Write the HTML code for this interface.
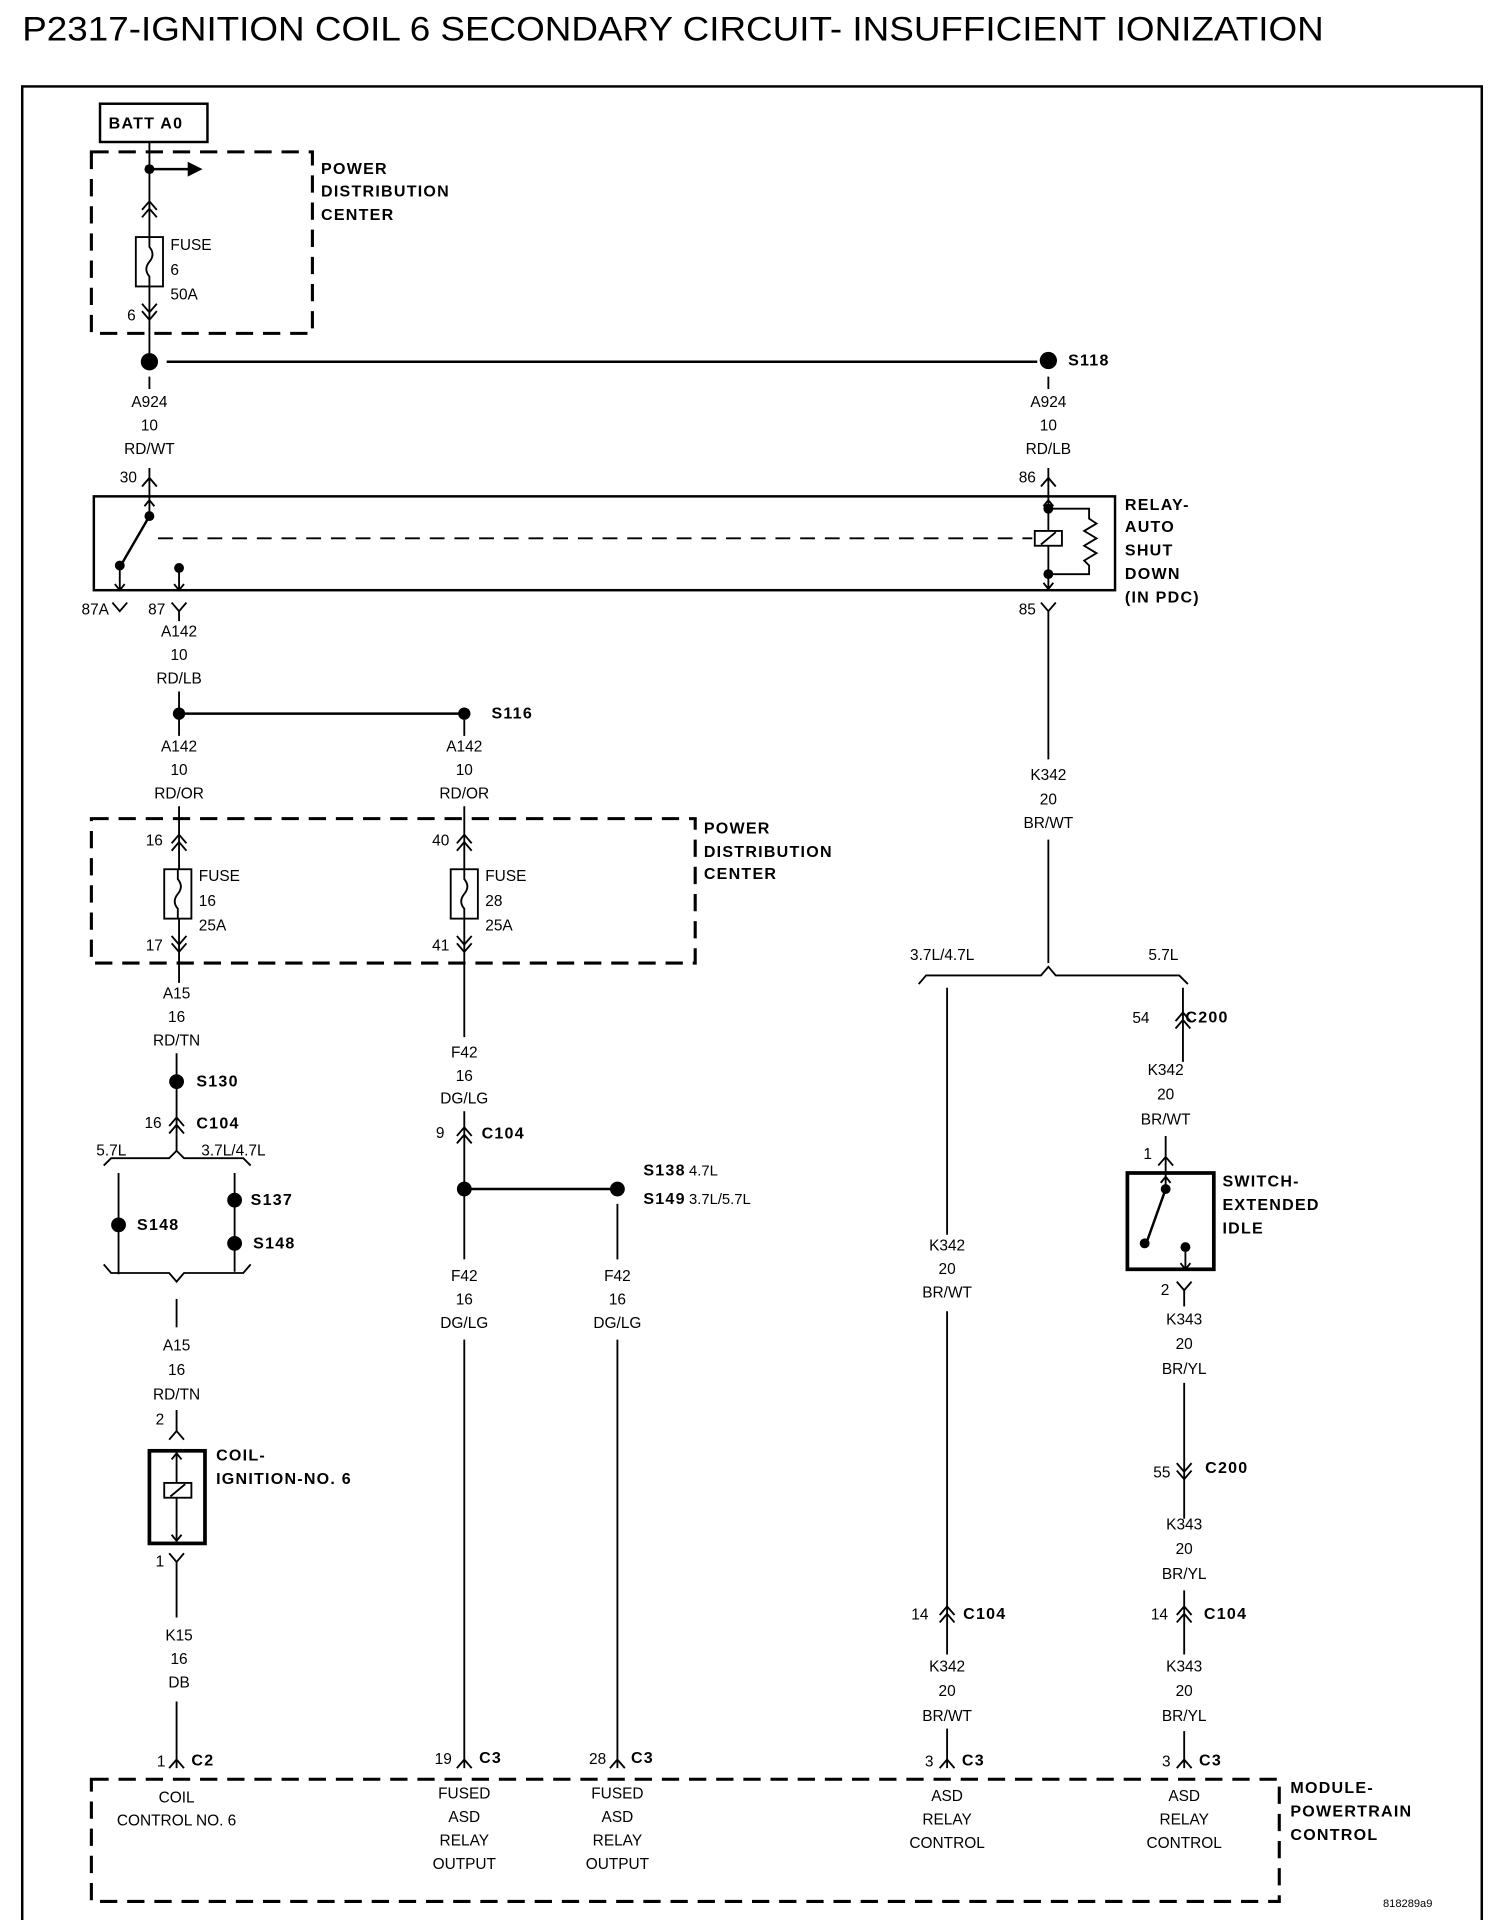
<!DOCTYPE html>
<html><head><meta charset="utf-8"><style>
html,body{margin:0;padding:0;background:#fff}
svg{display:block}
text{font-family:"Liberation Sans Narrow","Liberation Sans",sans-serif;font-size:12.5px;fill:#000;dominant-baseline:central}
.c{text-anchor:middle}
.b{font-family:"Liberation Sans",sans-serif;font-weight:bold;font-size:13px;letter-spacing:1px}
.w{stroke:#000;stroke-width:2;fill:none}
.t{stroke:#000;stroke-width:1.5;fill:none}
.d{stroke:#000;stroke-width:2.5;fill:none;stroke-dasharray:14 8}
</style></head><body>
<svg width="1504" height="1920" viewBox="0 0 1218 1555" preserveAspectRatio="none" xmlns="http://www.w3.org/2000/svg">
<text x="18" y="24" style="font-family:'Liberation Sans',sans-serif;font-size:28px" textLength="1054" lengthAdjust="spacingAndGlyphs">P2317-IGNITION COIL 6 SECONDARY CIRCUIT- INSUFFICIENT IONIZATION</text>
<rect x="18" y="70" width="1182" height="1520" class="w"/>

<rect x="81" y="84" width="87" height="31" class="w"/>
<text x="88" y="100" class="b">BATT A0</text>
<rect x="74" y="123" width="179" height="147" class="d"/>
<text x="260" y="137" class="b">POWER</text><text x="260" y="155" class="b">DISTRIBUTION</text><text x="260" y="174" class="b">CENTER</text>
<path class="t" d="M121 115 V192 M121 232 V292"/>
<circle cx="121" cy="137" r="4"/>
<path class="w" d="M121 137 H155"/><path d="M152 131 L164 137 L152 143Z"/>
<path class="t" d="M115 170 L121 163 L127 170 M115 176 L121 169 L127 176"/>
<rect x="110" y="192" width="22" height="40" class="t"/>
<path class="t" d="M121 192 V200 Q126 206 121 212 Q116 218 121 224 V232"/>
<text x="138" y="199">FUSE</text><text x="138" y="219">6</text><text x="138" y="239">50A</text>
<path class="t" d="M115 246 L121 253 L127 246 M115 252 L121 259 L127 252"/>
<text x="103" y="256">6</text>

<circle cx="121" cy="293" r="7"/>
<path class="w" d="M135 293 H840"/>
<circle cx="849" cy="292" r="7"/><text x="865" y="292" class="b">S118</text>
<path class="t" d="M121 305 V315 M849 305 V315"/>
<text class="c" x="121" y="326">A924</text><text class="c" x="121" y="345">10</text><text class="c" x="121" y="364">RD/WT</text>
<text class="c" x="849" y="326">A924</text><text class="c" x="849" y="345">10</text><text class="c" x="849" y="364">RD/LB</text>
<text x="97" y="387">30</text><path class="t" d="M115 394 L121 387 L127 394 M121 379 V402"/>
<text x="825" y="387">86</text><path class="t" d="M843 394 L849 387 L855 394 M849 379 V402"/>

<rect x="76" y="402" width="827" height="76" class="w"/>
<path class="t" d="M121 402 V418 M117 410 L121 405 L125 410"/>
<circle cx="121" cy="418" r="4"/>
<path class="w" d="M121 418 L99 456"/>
<circle cx="97" cy="458" r="4"/>
<path class="t" d="M97 458 V478 M93 473 L97 478 L101 473"/>
<circle cx="145" cy="460" r="4"/>
<path class="t" d="M145 460 V478 M141 473 L145 478 L149 473"/>
<path class="t" d="M128 436 H836" stroke-dasharray="12 8"/>
<path class="t" d="M849 402 V478 M845 410 L849 405 L853 410 M845 472 L849 477 L853 472"/>
<circle cx="849" cy="412" r="4"/><circle cx="849" cy="465" r="4"/>
<rect x="838" y="430" width="22" height="12" fill="#fff" stroke="#000" stroke-width="1.5"/>
<path class="t" d="M843 441 L855 431"/>
<path class="t" d="M849 412 H882 V420 L888 424 L878 430 L888 436 L878 442 L888 448 L878 454 L882 458 V465 H849"/>
<text x="911" y="409" class="b">RELAY-</text><text x="911" y="427" class="b">AUTO</text><text x="911" y="446" class="b">SHUT</text><text x="911" y="465" class="b">DOWN</text><text x="911" y="484" class="b">(IN PDC)</text>
<text x="66" y="494">87A</text><path class="t" d="M91 488 L97 495 L103 488"/>
<text x="120" y="494">87</text><path class="t" d="M139 488 L145 495 L151 488 M145 495 V503"/>
<text x="825" y="494">85</text><path class="t" d="M843 488 L849 495 L855 488"/>
<path class="t" d="M849 495 V615 M849 680 V780"/>

<text class="c" x="145" y="512">A142</text><text class="c" x="145" y="531">10</text><text class="c" x="145" y="550">RD/LB</text>
<path class="t" d="M145 560 V596 M145 653 V664"/>
<circle cx="145" cy="578" r="5"/><path class="w" d="M145 578 H376"/><circle cx="376" cy="578" r="5"/>
<text x="398" y="578" class="b">S116</text>
<path class="t" d="M376 583 V596"/>
<text class="c" x="145" y="605">A142</text><text class="c" x="145" y="624">10</text><text class="c" x="145" y="643">RD/OR</text>
<text class="c" x="376" y="605">A142</text><text class="c" x="376" y="624">10</text><text class="c" x="376" y="643">RD/OR</text>
<path class="t" d="M376 653 V704 M376 744 V840"/>
<path class="t" d="M145 664 V704 M145 744 V796"/>

<rect x="74" y="663" width="489" height="117" class="d"/>
<text x="570" y="671" class="b">POWER</text><text x="570" y="690" class="b">DISTRIBUTION</text><text x="570" y="708" class="b">CENTER</text>
<text x="118" y="681">16</text>
<path class="t" d="M139 683 L145 676 L151 683 M139 689 L145 682 L151 689"/>
<rect x="133" y="704" width="22" height="40" class="t"/>
<path class="t" d="M144 704 V712 Q149 718 144 724 Q139 730 144 736 V744"/>
<text x="161" y="710">FUSE</text><text x="161" y="730">16</text><text x="161" y="750">25A</text>
<path class="t" d="M139 758 L145 765 L151 758 M139 764 L145 771 L151 764"/>
<text x="118" y="766">17</text>
<text x="350" y="681">40</text>
<path class="t" d="M370 683 L376 676 L382 683 M370 689 L376 682 L382 689"/>
<rect x="365" y="704" width="22" height="40" class="t"/>
<path class="t" d="M376 704 V712 Q381 718 376 724 Q371 730 376 736 V744"/>
<text x="393" y="710">FUSE</text><text x="393" y="730">28</text><text x="393" y="750">25A</text>
<path class="t" d="M370 758 L376 765 L382 758 M370 764 L376 771 L382 764"/>
<text x="350" y="766">41</text>

<text class="c" x="143" y="805">A15</text><text class="c" x="143" y="824">16</text><text class="c" x="143" y="843">RD/TN</text>
<path class="t" d="M143 853 V932"/>
<circle cx="143" cy="876" r="6"/><text x="159" y="876" class="b">S130</text>
<text x="117" y="910">16</text>
<path class="t" d="M137 912 L143 905 L149 912 M137 918 L143 911 L149 918"/>
<text x="159" y="910" class="b">C104</text>
<text x="78" y="932">5.7L</text><text x="163" y="932">3.7L/4.7L</text>
<path class="t" d="M84 944 L90 938 H137 L143 932 L149 938 H197 L203 944"/>
<path class="t" d="M96 950 V1032 M190 950 V1030"/>
<circle cx="96" cy="992" r="6"/><text x="111" y="992" class="b">S148</text>
<circle cx="190" cy="972" r="6"/><text x="203" y="972" class="b">S137</text>
<circle cx="190" cy="1007" r="6"/><text x="205" y="1007" class="b">S148</text>
<path class="t" d="M84 1024 L90 1031 H137 L143 1038 L149 1031 H197 L203 1024"/>
<path class="t" d="M143 1052 V1075"/>
<text class="c" x="143" y="1090">A15</text><text class="c" x="143" y="1110">16</text><text class="c" x="143" y="1130">RD/TN</text>
<text x="126" y="1150">2</text>
<path class="t" d="M143 1142 V1160 M137 1166 L143 1159 L149 1166"/>
<rect x="121" y="1175" width="45" height="75" fill="none" stroke="#000" stroke-width="3"/>
<path class="t" d="M143 1175 V1250 M139 1182 L143 1177 L147 1182 M139 1243 L143 1248 L147 1243"/>
<rect x="133" y="1201" width="22" height="12" fill="#fff" stroke="#000" stroke-width="1.5"/>
<path class="t" d="M138 1212 L150 1202"/>
<text x="175" y="1179" class="b">COIL-</text><text x="175" y="1198" class="b">IGNITION-NO. 6</text>
<text x="126" y="1265">1</text>
<path class="t" d="M137 1258 L143 1265 L149 1258 M143 1265 V1310"/>
<text class="c" x="145" y="1325">K15</text><text class="c" x="145" y="1344">16</text><text class="c" x="145" y="1363">DB</text>
<path class="t" d="M143 1378 V1432 M137 1432 L143 1425 L149 1432"/>
<text x="127" y="1427">1</text><text x="155" y="1426" class="b">C2</text>

<rect x="74" y="1441" width="962" height="99" class="d"/>
<text class="c" x="143" y="1456">COIL</text><text class="c" x="143" y="1475">CONTROL NO. 6</text>
<text x="1045" y="1448" class="b">MODULE-</text><text x="1045" y="1467" class="b">POWERTRAIN</text><text x="1045" y="1486" class="b">CONTROL</text>
<text x="1120" y="1542" style="font-size:9px">818289a9</text>

<text class="c" x="376" y="853">F42</text><text class="c" x="376" y="872">16</text><text class="c" x="376" y="890">DG/LG</text>
<text x="353" y="918">9</text>
<path class="t" d="M376 900 V1020 M370 920 L376 913 L382 920 M370 926 L376 919 L382 926"/>
<text x="390" y="918" class="b">C104</text>
<circle cx="376" cy="963" r="6"/><path class="w" d="M376 963 H500"/><circle cx="500" cy="963" r="6"/>
<path class="t" d="M500 975 V1020"/>
<text x="521" y="948" class="b">S138</text><text x="558" y="949" style="font-size:12px">4.7L</text>
<text x="521" y="971" class="b">S149</text><text x="558" y="972" style="font-size:12px">3.7L/5.7L</text>
<text class="c" x="376" y="1034">F42</text><text class="c" x="376" y="1053">16</text><text class="c" x="376" y="1072">DG/LG</text>
<text class="c" x="500" y="1034">F42</text><text class="c" x="500" y="1053">16</text><text class="c" x="500" y="1072">DG/LG</text>
<path class="t" d="M376 1085 V1432 M370 1432 L376 1425 L382 1432 M500 1085 V1432 M494 1432 L500 1425 L506 1432"/>
<text x="352" y="1425">19</text><text x="388" y="1424" class="b">C3</text>
<text x="477" y="1425">28</text><text x="511" y="1424" class="b">C3</text>
<text class="c" x="376" y="1453">FUSED</text><text class="c" x="376" y="1472">ASD</text><text class="c" x="376" y="1491">RELAY</text><text class="c" x="376" y="1510">OUTPUT</text>
<text class="c" x="500" y="1453">FUSED</text><text class="c" x="500" y="1472">ASD</text><text class="c" x="500" y="1491">RELAY</text><text class="c" x="500" y="1510">OUTPUT</text>

<text class="c" x="849" y="628">K342</text><text class="c" x="849" y="648">20</text><text class="c" x="849" y="667">BR/WT</text>
<text x="737" y="774">3.7L/4.7L</text><text x="930" y="774">5.7L</text>
<path class="t" d="M744 797 L750 790 H843 L849 783 L855 790 H955 L962 797"/>
<path class="t" d="M767 800 V1000 M767 1062 V1432"/>
<text class="c" x="767" y="1009">K342</text><text class="c" x="767" y="1028">20</text><text class="c" x="767" y="1047">BR/WT</text>
<text x="738" y="1308">14</text>
<path class="t" d="M761 1308 L767 1301 L773 1308 M761 1314 L767 1307 L773 1314"/>
<text x="780" y="1307" class="b">C104</text>
<rect x="745" y="1340" width="44" height="60" fill="#fff"/>
<text class="c" x="767" y="1350">K342</text><text class="c" x="767" y="1370">20</text><text class="c" x="767" y="1390">BR/WT</text>
<path class="t" d="M761 1432 L767 1425 L773 1432"/>
<text x="749" y="1427">3</text><text x="779" y="1426" class="b">C3</text>
<text class="c" x="767" y="1455">ASD</text><text class="c" x="767" y="1474">RELAY</text><text class="c" x="767" y="1493">CONTROL</text>

<text x="917" y="825">54</text>
<path class="t" d="M958 800 V860 M952 827 L958 820 L964 827 M952 833 L958 826 L964 833"/>
<text x="960" y="824" class="b">C200</text>
<text class="c" x="944" y="867">K342</text><text class="c" x="944" y="887">20</text><text class="c" x="944" y="907">BR/WT</text>
<text x="926" y="935">1</text>
<path class="t" d="M944 920 V950 M938 944 L944 937 L950 944"/>
<rect x="913" y="950" width="70" height="78" fill="none" stroke="#000" stroke-width="3"/>
<path class="t" d="M944 950 V963 M940 958 L944 953 L948 958"/>
<circle cx="944" cy="963" r="4"/>
<path class="w" d="M944 963 L929 1005"/>
<circle cx="927" cy="1007" r="4"/>
<circle cx="960" cy="1010" r="4"/>
<path class="t" d="M960 1010 V1028 M956 1023 L960 1028 L964 1023"/>
<text x="990" y="957" class="b">SWITCH-</text><text x="990" y="976" class="b">EXTENDED</text><text x="990" y="995" class="b">IDLE</text>
<text x="940" y="1045">2</text>
<path class="t" d="M953 1038 L959 1045 L965 1038 M959 1045 V1058"/>
<text class="c" x="959" y="1069">K343</text><text class="c" x="959" y="1089">20</text><text class="c" x="959" y="1109">BR/YL</text>
<path class="t" d="M959 1120 V1230 M953 1185 L959 1192 L965 1185 M953 1191 L959 1198 L965 1191"/>
<text x="934" y="1193">55</text><text x="976" y="1189" class="b">C200</text>
<text class="c" x="959" y="1235">K343</text><text class="c" x="959" y="1255">20</text><text class="c" x="959" y="1275">BR/YL</text>
<path class="t" d="M959 1288 V1340 M953 1308 L959 1301 L965 1308 M953 1314 L959 1307 L965 1314"/>
<text x="932" y="1308">14</text><text x="975" y="1307" class="b">C104</text>
<text class="c" x="959" y="1350">K343</text><text class="c" x="959" y="1370">20</text><text class="c" x="959" y="1390">BR/YL</text>
<path class="t" d="M959 1402 V1432 M953 1432 L959 1425 L965 1432"/>
<text x="941" y="1427">3</text><text x="971" y="1426" class="b">C3</text>
<text class="c" x="959" y="1455">ASD</text><text class="c" x="959" y="1474">RELAY</text><text class="c" x="959" y="1493">CONTROL</text>
</svg>
</body></html>
